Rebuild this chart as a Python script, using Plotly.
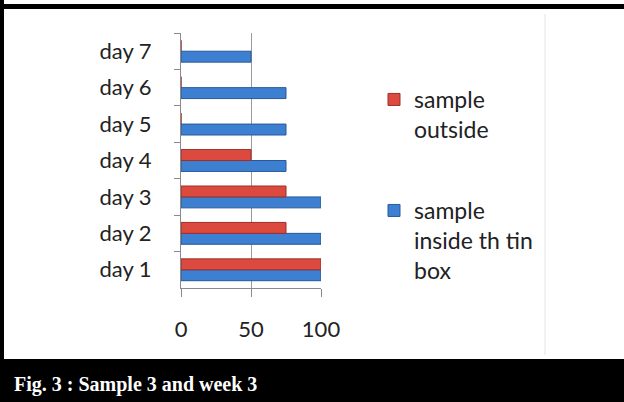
import plotly.graph_objects as go

W, H = 624, 402

days = ["day 1", "day 2", "day 3", "day 4", "day 5", "day 6", "day 7"]
inside_box = [100, 100, 100, 75, 75, 75, 50]
outside = [100, 75, 75, 50, 0, 0, 0]
x_ticks = [0, 50, 100]

def px_x(p):
    return p / W

def px_y(p):
    return 1 - p / H

FONT = "Lato, Carlito, 'Open Sans', sans-serif"

fig = go.Figure()
fig.add_trace(go.Bar(
    y=days, x=inside_box, orientation="h",
    name="sample<br>inside th tin<br>box",
    marker=dict(color="#3d7fd0", line=dict(color="#285a99", width=1)),
    legend="legend2", showlegend=True,
))
fig.add_trace(go.Bar(
    y=days, x=outside, orientation="h",
    name="sample<br>outside",
    marker=dict(color="#dc4a3f", line=dict(color="#9e2f27", width=1)),
    legend="legend", showlegend=True,
))

fig.update_layout(
    width=W, height=H, autosize=False, showlegend=True,
    margin=dict(l=0, r=0, t=0, b=0, pad=0, autoexpand=False),
    paper_bgcolor="white", plot_bgcolor="white",
    barmode="group", bargap=0.4, bargroupgap=0,
    font=dict(family=FONT, size=22, color="#222"),
    xaxis=dict(
        domain=[px_x(181), px_x(321)],
        range=[0, 100], tickvals=x_ticks,
        showgrid=True, gridcolor="#9a9a9a", gridwidth=1,
        showline=True, linecolor="#8a8a8a", linewidth=1,
        ticks="outside", ticklen=8, tickcolor="#8a8a8a",
        ticklabelstandoff=14, zeroline=False, automargin=False,
        tickfont=dict(family=FONT, size=22, color="#222"),
    ),
    yaxis=dict(
        domain=[px_y(288), px_y(33)],
        showline=True, linecolor="#8a8a8a", linewidth=1,
        ticks="outside", ticklen=6, tickcolor="#8a8a8a",
        tickson="boundaries", ticklabelstandoff=24,
        showgrid=False, automargin=False,
        tickfont=dict(family=FONT, size=22, color="#222"),
    ),
    legend=dict(
        x=px_x(374), y=px_y(78), xanchor="left", yanchor="top",
        valign="top", bgcolor="rgba(0,0,0,0)",
        font=dict(family=FONT, size=23, color="#222"),
    ),
    legend2=dict(
        x=px_x(374), y=px_y(189), xanchor="left", yanchor="top",
        valign="top", bgcolor="rgba(0,0,0,0)",
        font=dict(family=FONT, size=23, color="#222"),
    ),
    shapes=[
        dict(type="rect", xref="paper", yref="paper",
             x0=-0.05, x1=1.05, y0=-0.05, y1=px_y(359),
             fillcolor="black", line=dict(width=0), layer="below"),
        dict(type="rect", xref="paper", yref="paper",
             x0=-0.05, x1=px_x(4), y0=-0.05, y1=1.05,
             fillcolor="black", line=dict(width=0)),
        dict(type="rect", xref="paper", yref="paper",
             x0=-0.05, x1=1.05, y0=px_y(9), y1=px_y(4),
             fillcolor="black", line=dict(width=0)),
        dict(type="line", xref="paper", yref="paper",
             x0=px_x(545), x1=px_x(545), y0=px_y(355), y1=px_y(14),
             line=dict(color="#e4e4e4", width=1)),
    ],
    annotations=[
        dict(text="<b>Fig. 3 : Sample 3 and week 3</b>",
             xref="paper", yref="paper", x=px_x(12), y=px_y(384),
             xanchor="left", yanchor="middle", showarrow=False,
             font=dict(family="'Liberation Serif', 'Times New Roman', serif",
                       size=20, color="white")),
    ],
)

fig.write_html(
    "out.html",
    post_script="document.body.style.margin='0';document.body.style.overflow='hidden';",
)
